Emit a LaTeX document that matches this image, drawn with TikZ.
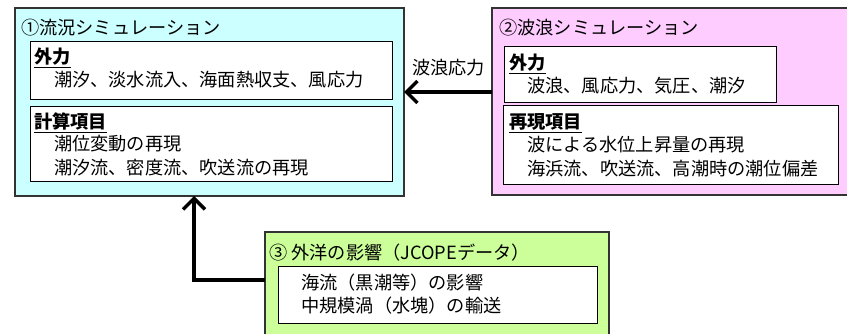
\documentclass[tikz,border=0pt]{standalone}
\usepackage{fontspec}
\setmainfont{Noto Sans CJK JP}
\usetikzlibrary{arrows.meta}
\definecolor{cyanfill}{HTML}{CCFFFF}
\definecolor{pinkfill}{HTML}{FFCCFF}
\definecolor{greenfill}{HTML}{CCFF99}
\definecolor{frame}{HTML}{333333}
\tikzset{
  outerbox/.style={draw=frame, line width=1.4pt},
  innerbox/.style={draw=black, fill=white, line width=1pt},
  txt/.style={anchor=base west, inner sep=0pt, font=\fontsize{18.2}{24}\selectfont},
  head/.style={txt, font=\fontsize{18.2}{24}\selectfont\bfseries},
  bigarrow/.style={line width=3.5pt, -{Straight Barb[length=11pt,width=22pt,line width=3.5pt]}},
}
\begin{document}
\begin{tikzpicture}[x=1pt,y=-1pt]
\useasboundingbox (0,0) rectangle (847,334);
% box 1
\draw[outerbox, fill=cyanfill] (15,8) rectangle (404,196);
\coordinate (b1e) at (404,92);
\coordinate (b1s) at (194,196);
\draw[innerbox] (30,42) rectangle (392,100);
\draw[innerbox] (30,107) rectangle (392,182);
\node[txt] (t1) at (21,35) {①流況シミュレーション};
\node[head] (h1a) at (34,64) {\underline{外力}};
\node[txt] (l1a) at (54,87) {潮汐、淡水流入、海面熱収支、風応力};
\node[head] (h1b) at (34,129) {\underline{計算項目}};
\node[txt] (l1b) at (54,151) {潮位変動の再現};
\node[txt] (l1c) at (54,175) {潮汐流、密度流、吹送流の再現};
% box 2
\draw[outerbox, fill=pinkfill] (492,8) rectangle (852,195);
\coordinate (b2w) at (492,92);
\draw[innerbox] (504,47) rectangle (776,103);
\draw[innerbox] (503,106) rectangle (838,185);
\node[txt] (t2) at (499,35) {②波浪シミュレーション};
\node[head] (h2a) at (509,70) {\underline{外力}};
\node[txt] (l2a) at (527,93) {波浪、風応力、気圧、潮汐};
\node[head] (h2b) at (509,129) {\underline{再現項目}};
\node[txt] (l2b) at (527,152) {波による水位上昇量の再現};
\node[txt] (l2c) at (527,176) {海浜流、吹送流、高潮時の潮位偏差};
% box 3
\draw[outerbox, fill=greenfill] (265,232) rectangle (609,345);
\coordinate (b3w) at (265,280);
\draw[innerbox] (278,266) rectangle (597,323);
\node[txt] (t3) at (269,259) {③ 外洋の影響（JCOPEデータ）};
\node[txt] (l3a) at (301,290) {海流（黒潮等）の影響};
\node[txt] (l3b) at (301,312) {中規模渦（水塊）の輸送};
% arrows
\draw[bigarrow] (b2w) -- (b1e);
\node[txt] (lab) at (412,75) {波浪応力};
\draw[bigarrow] (b3w) -| (b1s);
\end{tikzpicture}
\end{document}
